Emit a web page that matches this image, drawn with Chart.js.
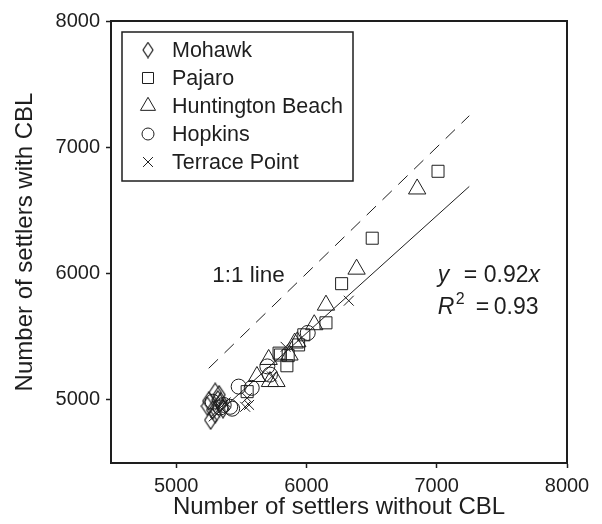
<!DOCTYPE html>
<html>
<head>
<meta charset="utf-8">
<script src="https://cdn.jsdelivr.net/npm/chart.js@4.4.1/dist/chart.umd.min.js"></script>
<style>
html, body { margin: 0; padding: 0; background: #fff; }
</style>
</head>
<body>
<canvas id="myChart" width="602" height="524"></canvas>
<script>
var FONT = '"Liberation Sans", Arial, Helvetica, sans-serif';
var INK = '#1e1e1e';

// axes
var axisMin = 4500, axisMax = 8000;
var xTicks = [5000, 6000, 7000, 8000];
var yTicks = [5000, 6000, 7000, 8000];

// number of settlers without CBL (x) and with CBL (y), by site
var mohawkX = [5240, 5265, 5300, 5320, 5280, 5345, 5360, 5300, 5330, 5250];
var mohawkY = [4950, 4840, 5060, 5000, 4920, 4985, 4930, 4890, 5040, 4990];
var pajaroX = [7010, 6505, 6270, 6150, 5980, 5940, 5850, 5800, 5790, 5545, 5860];
var pajaroY = [6810, 6280, 5920, 5610, 5515, 5435, 5270, 5355, 5370, 5065, 5350];
var huntX = [6850, 6385, 6150, 6060, 5910, 5870, 5710, 5770, 5720, 5620, 5930];
var huntY = [6670, 6035, 5750, 5595, 5450, 5355, 5320, 5145, 5145, 5185, 5460];
var hopX = [6010, 5700, 5720, 5580, 5480, 5415, 5365, 5280, 5430, 5340];
var hopY = [5530, 5265, 5200, 5095, 5105, 4945, 4960, 4985, 4930, 4940];
var terrX = [6325, 5735, 5545, 5530, 5330, 5300, 5840, 5380, 5560];
var terrY = [5785, 5185, 5015, 4945, 4950, 4900, 5420, 4980, 4960];

// reference lines
var oneToOneX = [5250, 7250];
var oneToOneY = [5250, 7250];
var fitX = [5250, 7250];
var fitY = [4830, 6690];

function pts(xs, ys) {
    return xs.map(function (x, i) { return { x: x, y: ys[i] }; });
}

// tall hollow diamond (no built-in style for it)
function diamond(w, h) {
    var c = document.createElement('canvas');
    c.width = w + 2; c.height = h + 2;
    var ctx = c.getContext('2d');
    ctx.strokeStyle = INK;
    ctx.lineWidth = 1.2;
    ctx.beginPath();
    ctx.moveTo(c.width / 2, 1); ctx.lineTo(w + 1, c.height / 2);
    ctx.lineTo(c.width / 2, h + 1); ctx.lineTo(1, c.height / 2);
    ctx.closePath();
    ctx.stroke();
    return c;
}

var dia = diamond(12, 18), diaSmall = diamond(10, 15);

function siteSet(label, xs, ys, style, r, legendR) {
    return {
        label: label, data: pts(xs, ys), pointStyle: style, pointRadius: r,
        borderColor: INK, backgroundColor: 'rgba(0,0,0,0)', pointBorderWidth: 1,
        showLine: false, legendR: legendR
    };
}

var overlay = {
    id: 'overlay',
    afterDraw: function (chart) {
        var ctx = chart.ctx, a = chart.chartArea;
        var sx = chart.scales.x, sy = chart.scales.y;
        ctx.save();
        // frame
        ctx.strokeStyle = INK;
        ctx.lineWidth = 2;
        ctx.strokeRect(a.left, a.top, a.right - a.left, a.bottom - a.top);

        // legend
        ctx.lineWidth = 1.5;
        ctx.strokeRect(122, 32, 231, 149);
        ctx.font = '21.5px ' + FONT;
        ctx.textBaseline = 'middle';
        chart.data.datasets.slice(0, 5).forEach(function (ds, i) {
            var y = 50 + i * 28;
            if (ds.pointStyle === dia) {
                ctx.drawImage(diaSmall, 148 - diaSmall.width / 2, y - diaSmall.height / 2);
            } else {
                ctx.strokeStyle = INK;
                ctx.fillStyle = 'rgba(0,0,0,0)';
                ctx.lineWidth = 1;
                Chart.helpers.drawPoint(ctx, { pointStyle: ds.pointStyle, radius: ds.legendR, rotation: 0, borderWidth: 1 }, 148, y);
            }
            ctx.fillStyle = INK;
            ctx.fillText(ds.label, 172, y + 1);
        });

        // annotations
        ctx.fillStyle = INK;
        ctx.textBaseline = 'alphabetic';
        ctx.font = '22.5px ' + FONT;
        ctx.fillText('1:1 line', sx.getPixelForValue(5277), sy.getPixelForValue(5933));

        var x0 = sx.getPixelForValue(7008), yb = sy.getPixelForValue(5933);
        ctx.font = 'italic 23px ' + FONT;
        ctx.fillText('y', x0, yb);
        ctx.font = '23px ' + FONT;
        ctx.fillText('=', x0 + 26, yb);
        ctx.fillText('0.92', x0 + 46, yb);
        var xe = x0 + 46 + ctx.measureText('0.92').width;
        ctx.font = 'italic 23px ' + FONT;
        ctx.fillText('x', xe, yb);

        var rb = sy.getPixelForValue(5680);
        ctx.fillText('R', x0, rb);
        ctx.font = '16px ' + FONT;
        ctx.fillText('2', x0 + 18, rb - 10);
        ctx.font = '23px ' + FONT;
        ctx.fillText('=', x0 + 38, rb);
        ctx.fillText('0.93', x0 + 56, rb);
        ctx.restore();
    }
};

function axis(title, ticks, titlePad) {
    return {
        type: 'linear',
        min: axisMin,
        max: axisMax,
        afterBuildTicks: function (s) { s.ticks = ticks.map(function (v) { return { value: v }; }); },
        grid: { drawOnChartArea: false, drawTicks: true, tickLength: 5, tickColor: INK, tickWidth: 1.5 },
        border: { color: INK, width: 2 },
        ticks: {
            color: INK, font: { size: 20, family: FONT }, padding: 6, maxRotation: 0,
            callback: function (v) { return String(v); }
        },
        title: { display: true, text: title, color: INK, font: { size: 24, family: FONT }, padding: titlePad }
    };
}

var xAxis = axis('Number of settlers without CBL', xTicks, { top: 0, bottom: 2 });
xAxis.afterFit = function (s) { s.height = 61; };
var yAxis = axis('Number of settlers with CBL', yTicks, { top: 11, bottom: 10 });
yAxis.afterFit = function (s) { s.width = 111; };

var canvas = document.getElementById('myChart');
new Chart(canvas, {
    type: 'scatter',
    data: {
        datasets: [
            siteSet('Mohawk', mohawkX, mohawkY, dia, 9, 8),
            siteSet('Pajaro', pajaroX, pajaroY, 'rect', 8.5, 7.8),
            siteSet('Huntington Beach', huntX, huntY, 'triangle', 10, 8.7),
            siteSet('Hopkins', hopX, hopY, 'circle', 7.5, 6),
            siteSet('Terrace Point', terrX, terrY, 'crossRot', 7, 7),
            { label: '1:1 line', data: pts(oneToOneX, oneToOneY), showLine: true, pointRadius: 0,
              borderColor: INK, borderWidth: 1, borderDash: [13, 9] },
            { label: 'fit', data: pts(fitX, fitY), showLine: true, pointRadius: 0,
              borderColor: INK, borderWidth: 1 }
        ]
    },
    options: {
        responsive: false,
        animation: false,
        devicePixelRatio: 1,
        layout: { padding: { top: 21, right: 35, left: 0, bottom: 0 } },
        plugins: { legend: { display: false }, tooltip: { enabled: false } },
        scales: { x: xAxis, y: yAxis }
    },
    plugins: [overlay]
});
</script>
</body>
</html>
